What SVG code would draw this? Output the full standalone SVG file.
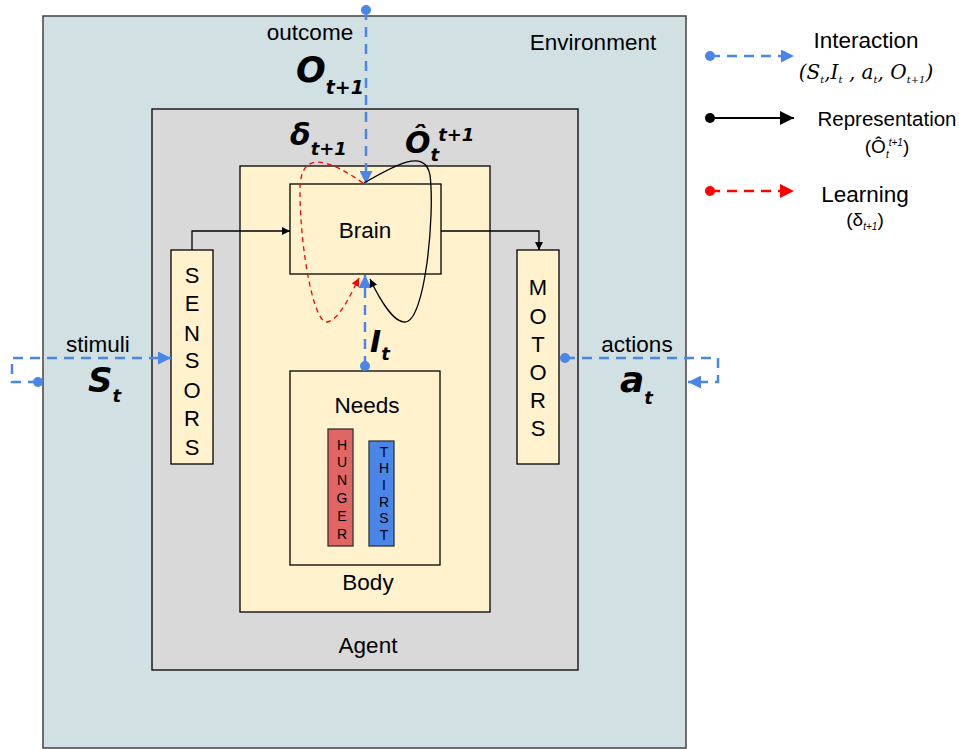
<svg xmlns="http://www.w3.org/2000/svg" width="959" height="749" viewBox="0 0 959 749">
<defs>
<style>
.lbl{font-family:"Liberation Sans",Arial,sans-serif;font-size:22.5px;fill:#000;text-anchor:middle}
.vl{font-family:"Liberation Sans",Arial,sans-serif;font-size:22px;fill:#000;text-anchor:middle}
.need{font-family:"Liberation Sans",Arial,sans-serif;font-size:14px;fill:#000;text-anchor:middle}
.m{font-family:"DejaVu Sans",sans-serif;font-style:italic;font-weight:bold;fill:#000}
.box{stroke:#000;stroke-width:1.3}
.blue{stroke:#4a86e8;stroke-width:2.5;fill:none;stroke-dasharray:10,7}
.red{stroke:#ff0000;stroke-width:1.3;fill:none;stroke-dasharray:5,4}
.redL{stroke:#ff0000;stroke-width:2.5;fill:none;stroke-dasharray:10,7}
.blk{stroke:#000;stroke-width:1.3;fill:none}
.blkL{stroke:#000;stroke-width:2;fill:none}
</style>
<marker id="aB" viewBox="0 0 10 10" refX="10" refY="5" markerWidth="16" markerHeight="13" markerUnits="userSpaceOnUse" orient="auto"><path d="M0,0L10,5L0,10z" fill="#4a86e8"/></marker>
<marker id="aK" viewBox="0 0 10 10" refX="10" refY="5" markerWidth="10" markerHeight="8" markerUnits="userSpaceOnUse" orient="auto"><path d="M0,0L10,5L0,10z" fill="#000"/></marker>
<marker id="aR" viewBox="0 0 10 10" refX="10" refY="5" markerWidth="10" markerHeight="8" markerUnits="userSpaceOnUse" orient="auto"><path d="M0,0L10,5L0,10z" fill="#ff0000"/></marker>
<marker id="aKL" viewBox="0 0 10 10" refX="10" refY="5" markerWidth="20" markerHeight="14" markerUnits="userSpaceOnUse" orient="auto"><path d="M0,0L10,5L0,10z" fill="#000"/></marker>
<marker id="aRL" viewBox="0 0 10 10" refX="10" refY="5" markerWidth="20" markerHeight="14" markerUnits="userSpaceOnUse" orient="auto"><path d="M0,0L10,5L0,10z" fill="#ff0000"/></marker>
</defs>
<rect width="959" height="749" fill="#fff"/>

<g id="environment">
<rect x="43" y="16" width="643" height="732" fill="#d0e0e3" stroke="#434343" stroke-width="1.5"/>
<text class="lbl" x="593" y="50">Environment</text>
</g>
<g id="agent">
<rect x="152" y="109" width="426" height="561" fill="#d9d9d9" class="box"/>
<text class="lbl" x="368" y="653">Agent</text>
</g>
<g id="body">
<rect x="240" y="166" width="250" height="446" fill="#fff2cc" class="box"/>
<text class="lbl" x="368" y="590">Body</text>
</g>
<g id="brain">
<rect x="290" y="184" width="151" height="90" fill="#fff2cc" class="box"/>
<text class="lbl" x="365" y="238">Brain</text>
</g>
<g id="needs">
<rect x="290" y="371" width="150" height="194" fill="#fff2cc" class="box"/>
<text class="lbl" x="367" y="413">Needs</text>
</g>
<g id="hunger">
<rect x="328" y="429" width="25" height="117" fill="#e06666" stroke="#333" stroke-width="1.3"/>
<text class="need" x="342" y="450">H</text>
<text class="need" x="342" y="467">U</text>
<text class="need" x="342" y="485">N</text>
<text class="need" x="342" y="503">G</text>
<text class="need" x="342" y="521">E</text>
<text class="need" x="342" y="539">R</text>
</g>
<g id="thirst">
<rect x="369" y="441" width="25" height="105" fill="#4a86e8" stroke="#333" stroke-width="1.3"/>
<text class="need" x="384" y="457">T</text>
<text class="need" x="384" y="473">H</text>
<text class="need" x="384" y="490">I</text>
<text class="need" x="384" y="507">R</text>
<text class="need" x="384" y="523">S</text>
<text class="need" x="384" y="540">T</text>
</g>
<g id="sensors">
<rect x="171" y="250" width="42" height="214" fill="#fff2cc" class="box"/>
<text class="vl" x="192" y="283">S</text>
<text class="vl" x="192" y="311">E</text>
<text class="vl" x="192" y="341">N</text>
<text class="vl" x="192" y="368">S</text>
<text class="vl" x="192" y="398">O</text>
<text class="vl" x="192" y="426">R</text>
<text class="vl" x="192" y="455">S</text>
</g>
<g id="motors">
<rect x="517" y="250" width="42" height="214" fill="#fff2cc" class="box"/>
<text class="vl" x="538" y="295">M</text>
<text class="vl" x="538" y="324">O</text>
<text class="vl" x="538" y="352">T</text>
<text class="vl" x="538" y="380">O</text>
<text class="vl" x="538" y="408">R</text>
<text class="vl" x="538" y="436">S</text>
</g>

<g id="connectors">
<path class="blk" d="M192,250V231H290" marker-end="url(#aK)"/>
<path class="blk" d="M441,231H539V250" marker-end="url(#aK)"/>
<path class="blue" d="M366,10V184" marker-end="url(#aB)"/>
<circle cx="366" cy="10" r="5" fill="#4a86e8"/>
<path class="blue" d="M365,366V275" marker-end="url(#aB)"/>
<circle cx="365" cy="366" r="5" fill="#4a86e8"/>
<path class="blue" d="M38,382H12V358H171" marker-end="url(#aB)"/>
<circle cx="38" cy="382" r="5" fill="#4a86e8"/>
<path class="blue" d="M565,358H718V382H688" marker-end="url(#aB)"/>
<circle cx="565" cy="358" r="5" fill="#4a86e8"/>
<path class="red" d="M363,183C330,160 300,148 300,190C300,250 314,324 327,322C339,320 350,296 359,278" marker-end="url(#aR)"/>
<path class="blk" d="M364,183C395,165 425,148 430,175C435,215 425,322 405,322C394,323 380,300 370,279" marker-end="url(#aK)"/>
</g>

<g id="labels">
<text class="lbl" x="310" y="40">outcome</text>
<text class="m" x="296" y="82" font-size="35">O<tspan font-size="19" dy="12">t+1</tspan></text>
<text class="lbl" x="98" y="352">stimuli</text>
<text class="m" x="88" y="392" font-size="34">S<tspan font-size="18" dy="10">t</tspan></text>
<text class="lbl" x="637" y="352">actions</text>
<text class="m" x="620" y="392" font-size="36">a<tspan font-size="18" dy="12">t</tspan></text>
<text class="m" x="370" y="352" font-size="30">I<tspan font-size="18" dy="8">t</tspan></text>
<text class="m" x="290" y="145" font-size="30" font-style="normal">δ<tspan font-size="18" font-style="italic" dy="10">t+1</tspan></text>
<text class="m" x="405" y="153" font-size="30" font-style="normal">Ô<tspan font-size="18" font-style="italic" dy="8">t</tspan><tspan font-size="18" font-style="italic" dx="-1" dy="-20">t+1</tspan></text>
</g>

<g id="legend">
<path class="blue" d="M710,56H794" marker-end="url(#aB)"/>
<circle cx="710" cy="56" r="5" fill="#4a86e8"/>
<text class="lbl" x="866" y="48">Interaction</text>
<text x="866" y="79" font-family="DejaVu Serif,serif" font-style="italic" font-size="20" text-anchor="middle">(S<tspan font-size="10" dy="4">t</tspan><tspan dy="-4">,I</tspan><tspan font-size="10" dy="4">t</tspan><tspan dy="-4"> , a</tspan><tspan font-size="10" dy="4">t</tspan><tspan dy="-4">, O</tspan><tspan font-size="10" dy="4">t+1</tspan><tspan dy="-4">)</tspan></text>
<path class="blkL" d="M710,118H794" marker-end="url(#aKL)"/>
<circle cx="710" cy="118" r="5" fill="#000"/>
<text x="887" y="126" font-family="Liberation Sans,Arial,sans-serif" font-size="20.5" text-anchor="middle">Representation</text>
<text x="887" y="153" font-family="Liberation Sans,Arial,sans-serif" font-size="19" text-anchor="middle">(Ô<tspan font-size="10" font-style="italic" dy="5">t</tspan><tspan font-size="10" font-style="italic" dy="-12">t+1</tspan><tspan dy="7">)</tspan></text>
<path class="redL" d="M710,191H794" marker-end="url(#aRL)"/>
<circle cx="710" cy="191" r="5" fill="#ff0000"/>
<text x="865" y="202" font-family="Liberation Sans,Arial,sans-serif" font-size="22.5" text-anchor="middle">Learning</text>
<text x="865" y="226" font-family="Liberation Sans,Arial,sans-serif" font-size="19" text-anchor="middle">(δ<tspan font-size="10" font-style="italic" dy="4">t+1</tspan><tspan dy="-4">)</tspan></text>
</g>
</svg>
